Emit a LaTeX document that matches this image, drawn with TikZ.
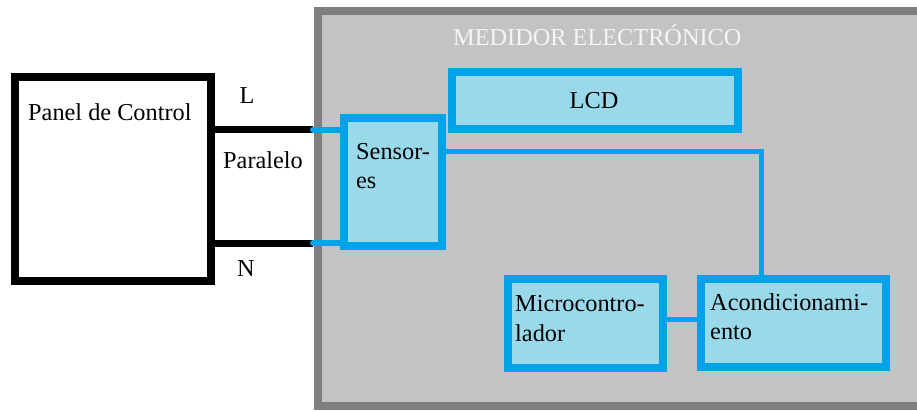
\documentclass[tikz,border=0pt]{standalone}
\usepackage{fontspec}
\setmainfont{Liberation Serif}
\definecolor{mgray}{RGB}{195,195,195}
\definecolor{mdark}{RGB}{127,127,127}
\definecolor{mblue}{RGB}{0,162,232}
\definecolor{mlight}{RGB}{153,217,234}
\definecolor{mtitle}{RGB}{245,245,245}
\tikzset{
  txt/.style={inner sep=0pt, font=\fontsize{24.3}{29}\selectfont},
  bluebox/.style={draw=mblue, fill=mlight, line width=8pt, inner sep=0pt, minimum width=#1},
  wire/.style={line width=7.5pt, black},
  bluewire/.style={line width=4.7pt, mblue},
}
\begin{document}
\begin{tikzpicture}[x=1pt,y=-1pt]
\useasboundingbox (0,0) rectangle (917,410);
\begin{scope}
\clip (0,0) rectangle (917,410);
\fill[white] (0,0) rectangle (917,410);
\node[draw=mdark, fill=mgray, line width=8pt, inner sep=0pt, minimum width=605pt, minimum height=395.8pt] (meter) at (620,208.4) {};
\end{scope}
% panel
\node[draw=black, fill=white, line width=8pt, inner sep=0pt, minimum width=196pt, minimum height=204pt] (panel) at (113,179) {};
\node[txt, anchor=base west] (paneltxt) at (28,120.7) {Panel de Control};
% boxes
\node[bluebox=97.7pt, minimum height=128pt] (sens) at (392.85,182.3) {};
\node[bluebox=285.4pt, minimum height=56.4pt] (lcd) at (595,100.5) {};
\node[bluebox=155pt, minimum height=89pt] (micro) at (585.5,323.5) {};
\node[bluebox=184.5pt, minimum height=88.2pt] (acond) at (793.25,322.6) {};
% wires
\coordinate (wl) at (313,129.5);
\coordinate (wn) at (313,243.3);
\coordinate (bend) at (761.7,151.7);
\draw[wire] (panel.east |- wl) -- (wl);
\draw[wire] (panel.east |- wn) -- (wn);
\draw[line width=6pt, mblue, line cap=round] (wl) -- (sens.west |- wl);
\draw[line width=6pt, mblue, line cap=round] (wn) -- (sens.west |- wn);
\draw[bluewire] (sens.east |- bend) -- (bend) -- (acond.north -| bend);
\draw[line width=5pt, mblue] (micro.east |- 0,319) -- (acond.west |- 0,319);
% redraw box border on top of wire ends
\node[bluebox=97.7pt, minimum height=128pt] (sens2) at (sens) {};
% texts
\node[txt, anchor=base] (ltxt) at (247,103) {L};
\node[txt, anchor=base west] (partxt) at (223,168) {Paralelo};
\node[txt, anchor=base] (ntxt) at (246,276.7) {N};
\node[txt, anchor=base west, text=mtitle] (title) at (453,45) {MEDIDOR ELECTRÓNICO};
\node[txt, anchor=base] (lcdtxt) at (594,108) {LCD};
\node[txt, anchor=base west] (sens1) at (356,159) {Sensor-};
\node[txt, anchor=base west] (sensb) at (356,188.3) {es};
\node[txt, anchor=base west] (mic1) at (515,311.7) {Microcontro-};
\node[txt, anchor=base west] (mic2) at (515,341.7) {lador};
\node[txt, anchor=base west] (ac1) at (710,310) {Acondicionami-};
\node[txt, anchor=base west] (ac2) at (710,339) {ento};
\end{tikzpicture}
\end{document}
